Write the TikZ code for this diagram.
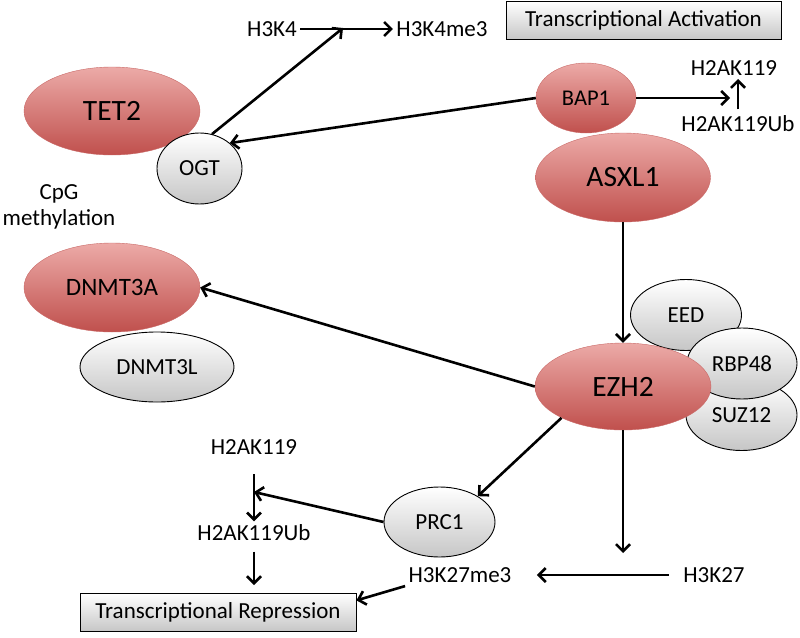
\documentclass[tikz,border=0pt]{standalone}
\usepackage{fontspec}
\setmainfont{Carlito}
\usetikzlibrary{shapes.geometric, arrows.meta}

\definecolor{redTop}{RGB}{236,170,167}
\definecolor{redBottom}{RGB}{192,80,77}
\definecolor{greyBottom}{RGB}{198,198,198}

\tikzstyle{enzyme} = [ellipse, top color=redTop, bottom color=redBottom, draw=redBottom!85!white, line width=0.4pt, inner sep=0pt, font=\fontsize{29.5}{34}\selectfont]
\tikzstyle{partner} = [ellipse, top color=white, bottom color=greyBottom, draw=black, line width=0.9pt, inner sep=0pt, font=\fontsize{23}{26}\selectfont]
\tikzstyle{outcome} = [rectangle, top color=white, bottom color=greyBottom, draw=black, line width=0.9pt, minimum width=275pt, minimum height=38pt, font=\fontsize{23}{26}\selectfont]
\tikzstyle{markText} = [font=\fontsize{23}{26}\selectfont]
\tikzstyle{arrow} = [line width=2.6pt, ->, >={Straight Barb[length=7pt,width=14pt]}]

\begin{document}
\begin{tikzpicture}[x=1pt, y=-1pt]
\useasboundingbox (0,0) rectangle (800,637);

        \node (tet2) [enzyme, minimum width=176pt, minimum height=88pt] at (112,111) {TET2};
        \node (ogt) [partner, minimum width=85pt, minimum height=71pt] at (199.5,168.5) {OGT};
        \node (cpg) [markText, align=center, inner sep=0pt] at (59,207) {CpG\\methylation};
        \node (h3k4) [markText] at (272,29) {H3K4};
        \node (h3k4me3) [markText, right of=h3k4, node distance=170pt] {H3K4me3};
        \node (transAct) [outcome] at (643.5,20.5) {Transcriptional Activation};

        \node (asxl1) [enzyme, minimum width=175pt, minimum height=89pt] at (623,177.5) {ASXL1};
        \node (bap1) [enzyme, minimum width=100pt, minimum height=70pt, font=\fontsize{22.5}{26}\selectfont] at (586,98) {BAP1};
        \node (h2ak119R) [markText] at (734,68) {H2AK119};
        \node (h2ak119UbR) [markText] at (738,124) {H2AK119Ub};

        \node (dnmt3l) [partner, minimum width=154pt, minimum height=70pt] at (157,367) {DNMT3L};
        \node (dnmt3a) [enzyme, minimum width=176pt, minimum height=89pt, font=\fontsize{25}{30}\selectfont] at (112,287.5) {DNMT3A};

        \node (eed) [partner, minimum width=111pt, minimum height=71pt] at (686,315) {EED};
        \node (suz12) [partner, minimum width=111pt, minimum height=71pt] at (741.5,415) {SUZ12};
        \node (rbp48) [partner, minimum width=110pt, minimum height=71pt] at (742,363.5) {RBP48};
        \node (ezh2) [enzyme, minimum width=176pt, minimum height=87pt] at (623,386.5) {EZH2};

        \node (prc1) [partner, minimum width=111pt, minimum height=70pt] at (439.5,522) {PRC1};
        \node (h2ak119L) [markText] at (254,447) {H2AK119};
        \node (h2ak119UbL) [markText, below of=h2ak119L, node distance=86pt] {H2AK119Ub};
        \node (h3k27) [markText] at (714,575) {H3K27};
        \node (h3k27me3) [markText, left of=h3k27, node distance=254pt] {H3K27me3};
        \node (transRep) [outcome, minimum width=276pt] at (218,612.5) {Transcriptional Repression};

        \coordinate (k4Join) at (343,28);
        \coordinate (bapTip) at (730,98);
        \coordinate (prcJoin) at (254,492);
        \coordinate (k27Join) at (623,553);

        \draw [arrow] (h3k4) -- (h3k4me3);
        \draw [arrow] (ogt.70) -- (k4Join);
        \draw [arrow] (bap1.west) -- (ogt.40);
        \draw [arrow] (bap1.east) -- (bapTip);
        \draw [arrow, shorten <=3pt] (h2ak119UbR.north) -- (h2ak119UbR.north |- h2ak119R.south);
        \draw [arrow] (asxl1) -- (ezh2);
        \draw [arrow] (ezh2.west) -- (dnmt3a.east);
        \draw [arrow] (ezh2.207) -- (prc1.34);
        \draw [arrow] (prc1.west) -- (prcJoin);
        \draw [arrow, shorten <=16pt] (h2ak119L) -- (h2ak119UbL);
        \draw [arrow, shorten <=7pt, shorten >=8pt] (h2ak119UbL) -- (h2ak119UbL |- transRep.north);
        \draw [arrow] (ezh2) -- (k27Join);
        \draw [arrow, shorten <=11pt, shorten >=22pt] (h3k27) -- (h3k27me3);
        \draw [arrow] (h3k27me3.south west) -- (transRep.5);

    \end{tikzpicture}
\end{document}
